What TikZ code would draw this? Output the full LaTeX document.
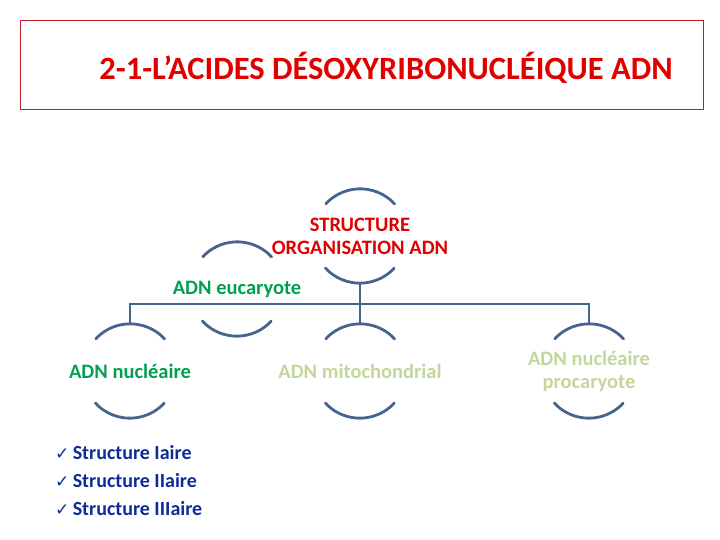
\documentclass[tikz,border=0pt]{standalone}
\usepackage{fontspec}
\setmainfont{Carlito}
\newfontfamily\symfont{DejaVu Sans}
\usepackage{xcolor}
\usetikzlibrary{positioning}
\definecolor{titlered}{HTML}{E00000}
\definecolor{framered}{HTML}{C0202A}
\definecolor{ringblue}{HTML}{46648E}
\definecolor{darkgreen}{HTML}{00A050}
\definecolor{palegreen}{HTML}{C3D69B}
\definecolor{listblue}{HTML}{0D2C9A}

\begin{document}
\begin{tikzpicture}[
  x=1pt,y=-1pt,
  ring/.style={circle,minimum size=94pt,inner sep=0pt},
  label txt/.style={font=\bfseries\fontsize{20.5}{23}\selectfont,align=center},
  link/.style={line width=2.8pt,draw=ringblue},
  arcline/.style={line width=2.8pt,draw=ringblue,line cap=round}
]
\useasboundingbox (0,0) rectangle (720,540);
% title
\node[draw=framered,line width=0.9pt,minimum width=683pt,minimum height=89pt,inner sep=0pt] (frame) at (361.5,64.5) {};
\node[font=\bfseries\fontsize{32.5}{38}\selectfont,text=titlered] (title) at (386,68) {2-1-L’ACIDES DÉSOXYRIBONUCLÉIQUE ADN};
% rings
\node[ring] (struct) at (360,236) {};
\node[ring] (euca) at (237,289) {};
\node[ring] (nucl) at (130,371) {};
\node[ring] (mito) at (360,371) {};
\node[ring] (proc) at (589,371) {};
\foreach \n in {struct,euca,nucl,mito,proc}{
  \draw[arcline] (\n.43) arc[start angle=43,end angle=137,radius=47pt];
  \draw[arcline] (\n.223) arc[start angle=223,end angle=317,radius=47pt];
}
\node[label txt,text=titlered] (structtxt) at (struct) {STRUCTURE\\ORGANISATION ADN};
\node[label txt,text=darkgreen] (eucatxt) at (euca) {ADN eucaryote};
\node[label txt,text=darkgreen] (nucltxt) at (nucl) {ADN nucléaire};
\node[label txt,text=palegreen] (mitotxt) at (mito) {ADN mitochondrial};
\node[label txt,text=palegreen] (proctxt) at (proc) {ADN nucléaire\\procaryote};
% connectors
\coordinate (bar) at (360,304);
\draw[link] (struct.south) -- (mito.north);
\draw[link] (nucl.north) |- (bar) -| (proc.north);
% list
\node[font=\bfseries\fontsize{20}{28}\selectfont,text=listblue,align=left,anchor=west,inner sep=0pt] (list) at (55,481)
  {{\symfont\fontsize{17}{28}\selectfont ✓}\,Structure Iaire\\
   {\symfont\fontsize{17}{28}\selectfont ✓}\,Structure IIaire\\
   {\symfont\fontsize{17}{28}\selectfont ✓}\,Structure IIIaire};
\end{tikzpicture}
\end{document}
